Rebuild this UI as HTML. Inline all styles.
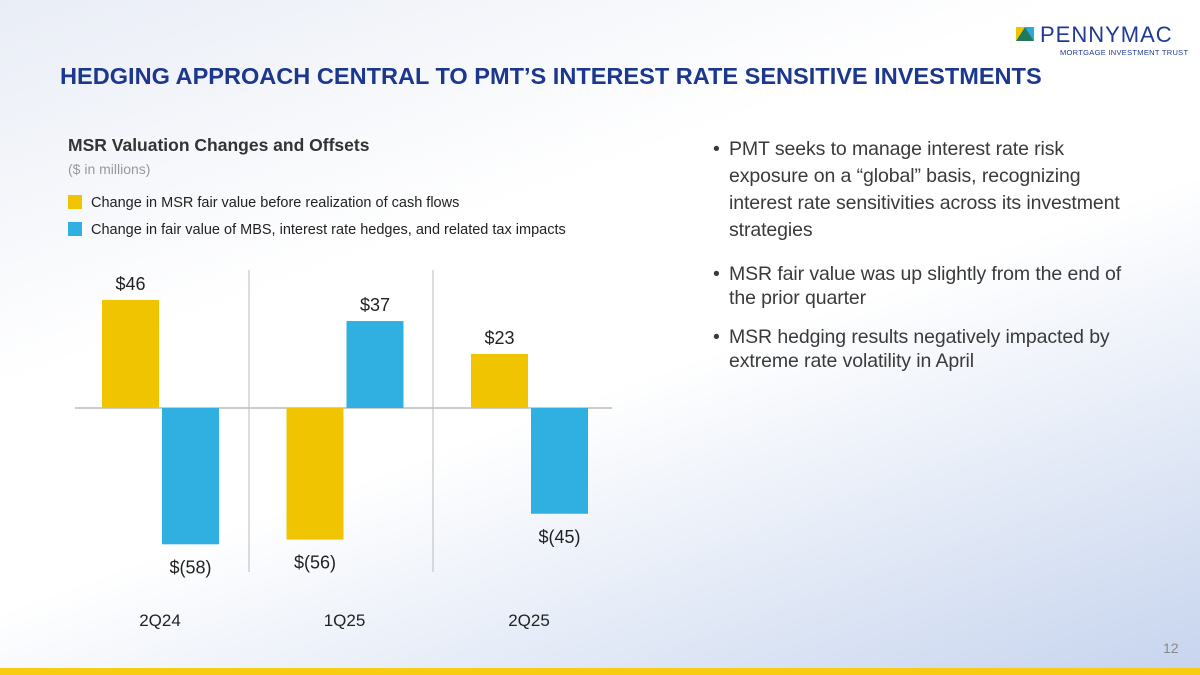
<!DOCTYPE html>
<html><head><meta charset="utf-8"><style>
body{margin:0;width:1200px;height:675px;overflow:hidden;font-family:"Liberation Sans",sans-serif;}
#page{position:relative;width:1200px;height:675px;background:linear-gradient(160deg,#e9edf6 0%,#ffffff 35%,#ffffff 55%,#c6d4ee 100%);}
.abs{position:absolute;}
h1{position:absolute;left:60px;top:63px;margin:0;font-size:23.55px;font-weight:bold;color:#1b388e;letter-spacing:0px;white-space:nowrap;}
.bul{position:absolute;left:729px;font-size:19.5px;color:#3a3a3a;white-space:nowrap;letter-spacing:-0.1px;}
.bul span{position:absolute;left:-16px;}
</style></head><body><div id="page">
<div class="abs" style="left:1016px;top:24px;">
<svg width="18" height="16" style="position:absolute;left:0;top:3px"><polygon points="0,0 9,0 0,14" fill="#f0c400"/><polygon points="9,0 18,0 18,14" fill="#2aa9e0"/><polygon points="0,14 9,0 18,14" fill="#1f7a5a"/></svg>
<div style="position:absolute;left:24px;top:-2px;font-size:22px;color:#1f3a93;letter-spacing:1px;white-space:nowrap">PENNYMAC</div>
<div style="position:absolute;left:44px;top:24px;font-size:7.5px;color:#1f3a93;white-space:nowrap;letter-spacing:0.3px">MORTGAGE INVESTMENT TRUST</div></div>
<h1>HEDGING APPROACH CENTRAL TO PMT’S INTEREST RATE SENSITIVE INVESTMENTS</h1>
<div class="abs" style="left:68px;top:135px;font-size:17.5px;font-weight:bold;color:#333">MSR Valuation Changes and Offsets</div>
<div class="abs" style="left:68px;top:161px;font-size:14px;color:#999">($ in millions)</div>
<div class="abs" style="left:68px;top:195px;font-size:14.5px;color:#222"><span style="display:inline-block;width:14px;height:14px;background:#f0c400;vertical-align:-2px;margin-right:9px"></span>Change in MSR fair value before realization of cash flows</div>
<div class="abs" style="left:68px;top:222px;font-size:14.5px;color:#222"><span style="display:inline-block;width:14px;height:14px;background:#2fb0e0;vertical-align:-2px;margin-right:9px"></span>Change in fair value of MBS, interest rate hedges, and related tax impacts</div>
<svg id="chart" class="abs" style="left:0;top:0" width="700" height="675"></svg>
<div class="bul" style="top:136px;line-height:27px"><span>•</span>PMT seeks to manage interest rate risk<br>exposure on a “global” basis, recognizing<br>interest rate sensitivities across its investment<br>strategies</div>
<div class="bul" style="top:262px;line-height:24px"><span>•</span>MSR fair value was up slightly from the end of<br>the prior quarter</div>
<div class="bul" style="top:325px;line-height:24px"><span>•</span>MSR hedging results negatively impacted by<br>extreme rate volatility in April</div>
<div class="abs" style="left:1163px;top:640px;font-size:14px;color:#888">12</div>
<div class="abs" style="left:0;top:668px;width:1200px;height:7px;background:#f8cc10"></div>
</div>
<script>
const categories=["2Q24","1Q25","2Q25"];
const msrValues=[46,-56,23];
const hedgeValues=[-58,37,-45];
const svg=document.getElementById('chart');
const NS='http://www.w3.org/2000/svg';
const zeroY=408,scale=2.35;
const y=v=>zeroY-v*scale;
const groupX=i=>102+i*184.5;
function mk(tag,attrs){const e=document.createElementNS(NS,tag);for(const k in attrs)e.setAttribute(k,attrs[k]);svg.appendChild(e);return e;}
const fmt=v=>v>=0?'$'+v:'$('+(-v)+')';
[249,433].forEach(x=>{const l=mk('line',{x1:x,x2:x,y1:270,y2:572,stroke:'#bbb','stroke-width':1});

});
const zl=mk('line',{x1:75,x2:612,y1:zeroY,y2:zeroY,stroke:'#bbb','stroke-width':1.5});


categories.forEach((c,i)=>{
 [[msrValues[i],'#f0c400',0,'msr'],[hedgeValues[i],'#2fb0e0',60,'hedge']].forEach(([v,col,off,nm])=>{
  const x=groupX(i)+off,w=57;
  const r=mk('rect',{x:x,y:Math.min(y(v),zeroY),width:w,height:Math.abs(v*scale),fill:col});
  
  
  const ty=v>=0?y(v)-10:y(v)+29;
  const t=mk('text',{x:x+w/2,y:ty,'text-anchor':'middle','font-size':18,fill:'#222','font-family':'Liberation Sans'});
  t.textContent=fmt(v);
  
  
 });
 const t=mk('text',{x:groupX(i)+58,y:626,'text-anchor':'middle','font-size':17,fill:'#222','font-family':'Liberation Sans'});
 t.textContent=c;
 
 
});
</script></body></html>
